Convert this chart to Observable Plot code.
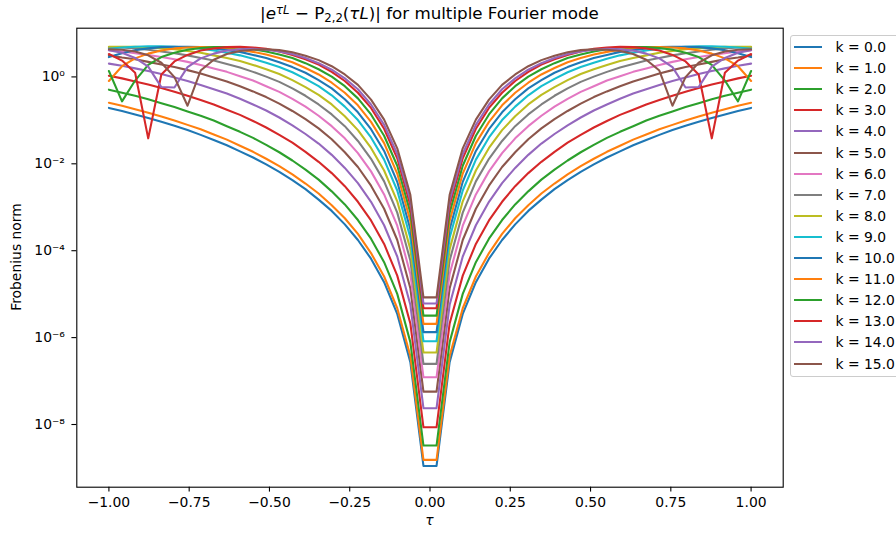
<!DOCTYPE html>
<html><head><meta charset="utf-8">
<script src="https://cdn.jsdelivr.net/npm/d3@7"></script>
<script src="https://cdn.jsdelivr.net/npm/@observablehq/plot@0.6"></script>
<style>
body{margin:0;background:#fff;}
#wrap{position:relative;width:896px;height:534px;overflow:hidden;font-family:"DejaVu Sans",sans-serif;color:#000;}
#title{position:absolute;top:4px;left:429.5px;transform:translateX(-50%);font-size:16.7px;white-space:nowrap;line-height:19px;}
#title sup{font-size:70%;vertical-align:0.42em;line-height:0;}
#title sub{font-size:70%;vertical-align:-0.25em;line-height:0;}
#ylab{position:absolute;left:16px;top:257px;transform:translate(-50%,-50%) rotate(-90deg);font-size:13.9px;white-space:nowrap;}
#xlab{position:absolute;left:429.5px;top:520px;transform:translate(-50%,-50%);font-size:13.9px;font-style:italic;}
#legend{position:absolute;left:790px;top:35px;width:120px;height:342px;border:1px solid #ccc;border-radius:3px;background:rgba(255,255,255,0.8);box-sizing:border-box;}
.li{position:absolute;left:0;height:0;}
.li .h{position:absolute;left:3px;width:28px;height:2px;top:-1px;}
.li .t{position:absolute;left:44.5px;top:-9px;font-size:13.9px;line-height:18px;white-space:nowrap;}
</style></head><body><div id="wrap"></div>
<script>
// τ sample points (τ ≥ 0); the curves are mirror-symmetric about τ = 0
const tauHalf = [0.0204, 0.0612, 0.1020, 0.1429, 0.1837, 0.2245, 0.2653, 0.3061, 0.3469, 0.3878, 0.4286, 0.4694, 0.5102,
                 0.5510, 0.5918, 0.6327, 0.6735, 0.7143, 0.7551, 0.7959, 0.8367, 0.8776, 0.9184, 0.9592, 1.0000];
// log10 of the Frobenius norm, one array per Fourier mode k
const k0  = [-9.00,-6.61,-5.50,-4.77,-4.23,-3.80,-3.44,-3.13,-2.87,-2.63,-2.42,-2.23,-2.06,-1.90,-1.76,-1.62,-1.50,-1.38,-1.27,-1.17,-1.08,-0.99,-0.91,-0.83,-0.76];
const k1  = [-8.86,-6.47,-5.37,-4.64,-4.10,-3.66,-3.30,-3.00,-2.73,-2.50,-2.29,-2.10,-1.93,-1.77,-1.63,-1.49,-1.37,-1.25,-1.15,-1.05,-0.96,-0.87,-0.79,-0.71,-0.64];
const k2  = [-8.53,-6.15,-5.04,-4.31,-3.77,-3.34,-2.98,-2.68,-2.41,-2.18,-1.97,-1.78,-1.61,-1.45,-1.31,-1.18,-1.05,-0.94,-0.84,-0.74,-0.65,-0.56,-0.48,-0.41,-0.34];
const k3  = [-8.11,-5.72,-4.62,-3.89,-3.35,-2.92,-2.56,-2.26,-2.00,-1.77,-1.56,-1.38,-1.21,-1.06,-0.92,-0.80,-0.68,-0.58,-0.48,-0.39,-0.30,-0.22,-0.15,-0.08,-0.02];
const k4  = [-7.67,-5.29,-4.18,-3.46,-2.92,-2.49,-2.14,-1.84,-1.58,-1.36,-1.16,-0.98,-0.82,-0.68,-0.55,-0.43,-0.33,-0.23,-0.14,-0.06, 0.02, 0.09, 0.15, 0.21, 0.26];
const k5  = [-7.29,-4.91,-3.80,-3.08,-2.55,-2.12,-1.78,-1.48,-1.23,-1.02,-0.83,-0.66,-0.51,-0.38,-0.26,-0.15,-0.06, 0.03, 0.11, 0.18, 0.24, 0.30, 0.36, 0.40, 0.45];
const k6  = [-6.96,-4.58,-3.47,-2.75,-2.22,-1.80,-1.46,-1.18,-0.94,-0.73,-0.55,-0.39,-0.26,-0.13,-0.03, 0.07, 0.15, 0.23, 0.30, 0.36, 0.41, 0.46, 0.50, 0.54, 0.57];
const k7  = [-6.65,-4.27,-3.17,-2.45,-1.93,-1.52,-1.18,-0.91,-0.68,-0.48,-0.31,-0.16,-0.04, 0.07, 0.17, 0.25, 0.33, 0.39, 0.45, 0.50, 0.54, 0.58, 0.61, 0.63, 0.64];
const k8  = [-6.39,-4.01,-2.91,-2.20,-1.68,-1.27,-0.95,-0.68,-0.46,-0.28,-0.12, 0.02, 0.13, 0.23, 0.32, 0.39, 0.45, 0.51, 0.55, 0.59, 0.61, 0.63, 0.65, 0.65, 0.65];
const k9  = [-6.13,-3.75,-2.66,-1.95,-1.44,-1.04,-0.73,-0.47,-0.26,-0.09, 0.06, 0.18, 0.28, 0.37, 0.45, 0.51, 0.56, 0.60, 0.63, 0.65, 0.66, 0.66, 0.65, 0.63, 0.60];
const k10 = [-5.92,-3.55,-2.46,-1.75,-1.25,-0.86,-0.56,-0.31,-0.12, 0.05, 0.18, 0.29, 0.39, 0.46, 0.53, 0.57, 0.61, 0.64, 0.65, 0.65, 0.64, 0.61, 0.57, 0.50, 0.41];
const k11 = [-5.73,-3.36,-2.27,-1.57,-1.08,-0.70,-0.41,-0.18, 0.01, 0.16, 0.29, 0.39, 0.47, 0.53, 0.58, 0.62, 0.64, 0.64, 0.63, 0.61, 0.56, 0.49, 0.38, 0.20,-0.14];
const k12 = [-5.54,-3.17,-2.09,-1.40,-0.91,-0.54,-0.26,-0.04, 0.13, 0.27, 0.39, 0.47, 0.54, 0.59, 0.63, 0.64, 0.64, 0.62, 0.58, 0.51, 0.41, 0.23,-0.13,-0.61, 0.09];
const k13 = [-5.37,-3.00,-1.92,-1.24,-0.76,-0.41,-0.14, 0.07, 0.24, 0.36, 0.46, 0.54, 0.60, 0.63, 0.65, 0.64, 0.61, 0.56, 0.46, 0.31, 0.01,-1.46, 0.05, 0.33, 0.48];
const k14 = [-5.26,-2.89,-1.82,-1.15,-0.68,-0.33,-0.08, 0.12, 0.27, 0.39, 0.48, 0.54, 0.58, 0.60, 0.59, 0.56, 0.49, 0.38, 0.18,-0.29,-0.28, 0.19, 0.39, 0.51, 0.57];
const k15 = [-5.12,-2.76,-1.69,-1.03,-0.57,-0.23, 0.01, 0.20, 0.34, 0.44, 0.52, 0.57, 0.59, 0.58, 0.55, 0.48, 0.35, 0.10,-0.71,-0.05, 0.28, 0.45, 0.54, 0.58, 0.59];
const kModes = [0, 1, 2, 3, 4, 5, 6, 7, 8, 9, 10, 11, 12, 13, 14, 15];
const xTicks = [-1, -0.75, -0.5, -0.25, 0, 0.25, 0.5, 0.75, 1];
const yTicks = [1e-8, 1e-6, 1e-4, 1e-2, 1];
const colors10 = ["#1f77b4","#ff7f0e","#2ca02c","#d62728","#9467bd","#8c564b","#e377c2","#7f7f7f","#bcbd22","#17becf"];

const series = [k0, k1, k2, k3, k4, k5, k6, k7, k8, k9, k10, k11, k12, k13, k14, k15];
const colors = kModes.map(k => colors10[k % 10]);
const rows = [];
kModes.forEach((k, i) => {
  const s = series[i];
  for (let j = tauHalf.length - 1; j >= 0; j--) rows.push({k, tau: -tauHalf[j], v: 10 ** s[j]});
  for (let j = 0; j < tauHalf.length; j++) rows.push({k, tau: tauHalf[j], v: 10 ** s[j]});
});
const sup = {"0":"⁰","1":"¹","2":"²","3":"³","4":"⁴","5":"⁵","6":"⁶","7":"⁷","8":"⁸","9":"⁹","-":"⁻"};
const supFmt = d => "10" + String(Math.round(Math.log10(d))).split("").map(c => sup[c]).join("");

const chart = Plot.plot({
  width: 896, height: 534,
  marginLeft: 76.3, marginRight: 113.3, marginTop: 27.7, marginBottom: 47.3,
  style: {fontFamily: "DejaVu Sans", fontSize: "13.9px", background: "transparent", color: "#000", overflow: "visible"},
  x: {domain: [-1.1, 1.1]},
  y: {type: "log", domain: [10 ** -9.489, 10 ** 1.075]},
  color: {type: "ordinal", domain: kModes, range: colors},
  marks: [
    Plot.line(rows, {x: "tau", y: "v", z: "k", stroke: "k", strokeWidth: 2.08, strokeLinejoin: "round"}),
    Plot.frame({stroke: "#000", strokeWidth: 1.1}),
    Plot.axisX(xTicks, {tickSize: 4.9, tickPadding: 5.1, tickFormat: d3.format(".2f"), fontSize: 13.9, label: null, strokeWidth: 1.1}),
    Plot.axisY(yTicks, {tickSize: 4.9, tickPadding: 7, tickFormat: supFmt, fontSize: 13.9, label: null, strokeWidth: 1.1, dy: 2})
  ]
});
const wrap = document.getElementById("wrap");
wrap.appendChild(chart);
const t = document.createElement("div"); t.id = "title";
t.innerHTML = '|<i>e</i><sup><i>τL</i></sup> − P<sub>2,2</sub>(<i>τL</i>)| for multiple Fourier mode';
wrap.appendChild(t);
const yl = document.createElement("div"); yl.id = "ylab"; yl.textContent = "Frobenius norm"; wrap.appendChild(yl);
const xl = document.createElement("div"); xl.id = "xlab"; xl.textContent = "τ"; wrap.appendChild(xl);
const lg = document.createElement("div"); lg.id = "legend";
kModes.forEach((k, i) => {
  const e = document.createElement("div"); e.className = "li"; e.style.top = Math.round(11 + 21.1 * i) + "px";
  e.innerHTML = '<div class="h" style="background:' + colors[i] + '"></div><div class="t">k = ' + k.toFixed(1) + '</div>';
  lg.appendChild(e);
});
wrap.appendChild(lg);
</script></body></html>
